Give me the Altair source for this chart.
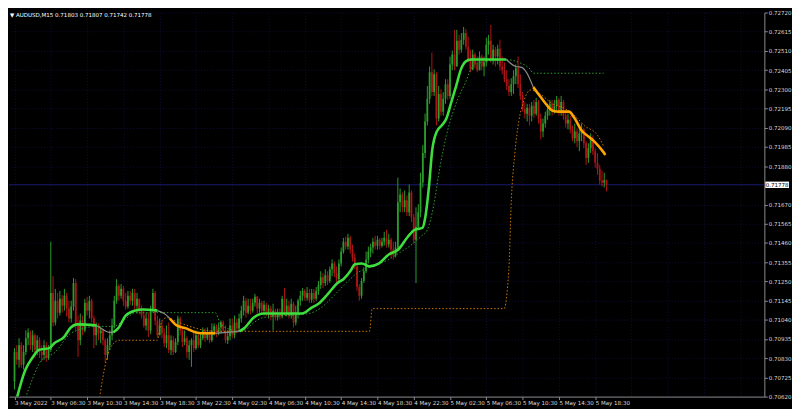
import altair as alt
import pandas as pd

SYMBOL = "AUDUSD,M15"
POINT = 0.00001  # prices below are stored in points (1 point = 0.00001)

open0 = 70702
close_pts = [
    70864, 70821, 70901, 70794, 70864, 70939, 70971, 70901, 70955, 70875,
    70928, 70864, 70847, 70901, 70831, 70875, 71187, 71025, 71144, 71079,
    71155, 71117, 71171, 71101, 71047, 71112, 71241, 71009, 70928, 71036,
    70982, 71133, 71090, 71144, 71047, 70955, 71009, 70966, 70982, 70928,
    70847, 70901, 70955, 71009, 71144, 71225, 71171, 71209, 71144, 71112,
    71171, 71144, 71187, 71117, 71155, 71090, 71063, 71009, 71047, 70982,
    71090, 71187, 71036, 70955, 71009, 70966, 70912, 70955, 70875, 70928,
    70864, 70918, 71047, 70982, 70918, 70939, 70864, 70901, 70928, 70885,
    70955, 70901, 70939, 70982, 70939, 70971, 70928, 70982, 71004, 70966,
    70998, 71025, 70982, 70928, 70950, 71009, 70955, 71025, 70993, 71047,
    71090, 71144, 71079, 71117, 71090, 71133, 71166, 71101, 71133, 71090,
    71122, 71079, 71101, 71058, 71090, 71052, 71079, 71058, 71155, 71079,
    71117, 71063, 71128, 71025, 71079, 71144, 71171, 71198, 71160, 71187,
    71149, 71187, 71155, 71198, 71230, 71273, 71241, 71284, 71252, 71316,
    71348, 71295, 71262, 71348, 71413, 71467, 71440, 71488, 71424, 71381,
    71332, 71219, 71171, 71252, 71305, 71370, 71413, 71435, 71467, 71445,
    71478, 71445, 71467, 71488, 71451, 71478, 71424, 71391, 71435, 71682,
    71725, 71655, 71693, 71628, 71736, 71601, 71478, 71548, 71628, 71790,
    71952, 72124, 72248, 72393, 72285, 72382, 72140, 72275, 72178, 72248,
    72328, 72264, 72436, 72490, 72425, 72566, 72517, 72571, 72608, 72533,
    72463, 72409, 72490, 72436, 72404, 72479, 72425, 72447, 72544, 72566,
    72463, 72517, 72479, 72522, 72425, 72404, 72355, 72318, 72285, 72328,
    72371, 72415, 72328, 72264, 72194, 72167, 72199, 72156, 72210, 72167,
    72231, 72140, 72070, 72113, 72156, 72188, 72221, 72178, 72210, 72242,
    72178, 72231, 72156, 72113, 72134, 72081, 72032, 72070, 72016, 72059,
    72081, 72005, 71924, 71978, 72027, 71962, 71898, 71866, 71801, 71790,
    71803, 71778,
]
high_pts = [
    70885, 70901, 70939, 70918, 70901, 70982, 70993, 70982, 70982, 70966,
    70955, 70945, 70901, 70928, 70918, 70901, 71467, 71279, 71209, 71187,
    71198, 71176, 71209, 71187, 71144, 71144, 71268, 71262, 71063, 71074,
    71063, 71155, 71166, 71171, 71155, 71063, 71025, 71020, 71004, 70993,
    70939, 70939, 70982, 71047, 71171, 71262, 71235, 71235, 71225, 71187,
    71198, 71198, 71209, 71209, 71187, 71155, 71117, 71090, 71079, 71079,
    71117, 71209, 71198, 71063, 71047, 71036, 70993, 71009, 71025, 70955,
    70950, 70939, 71063, 71058, 70993, 70982, 70950, 70928, 70939, 70971,
    70982, 70966, 70966, 70998, 70993, 70998, 70982, 71020, 71020, 71015,
    71025, 71036, 71036, 71009, 70982, 71047, 71047, 71063, 71047, 71074,
    71117, 71171, 71160, 71155, 71155, 71155, 71182, 71171, 71155, 71144,
    71144, 71133, 71122, 71117, 71128, 71101, 71101, 71101, 71171, 71214,
    71155, 71144, 71155, 71139, 71117, 71155, 71198, 71214, 71209, 71219,
    71209, 71209, 71209, 71219, 71252, 71305, 71295, 71316, 71305, 71332,
    71370, 71359, 71332, 71370, 71435, 71488, 71494, 71510, 71499, 71451,
    71402, 71348, 71235, 71268, 71327, 71413, 71440, 71456, 71488, 71499,
    71499, 71488, 71488, 71521, 71532, 71510, 71488, 71467, 71467, 71817,
    71758, 71736, 71747, 71720, 71779, 71747, 71618, 71655, 71672, 71844,
    71995, 72167, 72318, 72425, 72501, 72409, 72393, 72318, 72301, 72285,
    72355, 72355, 72479, 72512, 72625, 72625, 72598, 72608, 72641, 72630,
    72587, 72517, 72517, 72501, 72479, 72507, 72490, 72479, 72582, 72598,
    72652, 72544, 72533, 72544, 72571, 72479, 72447, 72404, 72355, 72361,
    72404, 72436, 72479, 72382, 72285, 72231, 72221, 72221, 72231, 72242,
    72253, 72242, 72167, 72140, 72178, 72221, 72242, 72242, 72242, 72264,
    72253, 72264, 72242, 72178, 72167, 72156, 72102, 72113, 72086, 72081,
    72113, 72091, 72016, 72005, 72059, 72048, 71978, 71952, 71887, 71855,
    71844, 71807,
]
low_pts = [
    70659, 70794, 70778, 70778, 70767, 70847, 70901, 70875, 70864, 70831,
    70847, 70831, 70810, 70821, 70810, 70821, 70864, 71004, 71009, 71047,
    71063, 71079, 71090, 71058, 71025, 71025, 71090, 70982, 70837, 70901,
    70955, 70971, 71063, 71047, 71025, 70885, 70901, 70928, 70912, 70901,
    70805, 70821, 70875, 70928, 70993, 71128, 71144, 71155, 71117, 71096,
    71101, 71122, 71117, 71090, 71074, 71069, 71047, 70998, 70982, 70945,
    70961, 71079, 71009, 70945, 70955, 70939, 70891, 70885, 70858, 70847,
    70847, 70858, 70901, 70955, 70891, 70901, 70831, 70821, 70783, 70864,
    70875, 70885, 70885, 70928, 70918, 70928, 70912, 70918, 70955, 70945,
    70955, 70966, 70971, 70912, 70907, 70928, 70939, 70939, 70966, 70982,
    71025, 71063, 71052, 71069, 71069, 71079, 71112, 71074, 71079, 71069,
    71063, 71058, 71047, 71036, 70982, 71036, 71036, 71042, 71047, 71063,
    71058, 71047, 71047, 70998, 71009, 71047, 71117, 71144, 71144, 71144,
    71133, 71133, 71133, 71144, 71176, 71209, 71214, 71225, 71230, 71241,
    71279, 71273, 71246, 71241, 71332, 71402, 71424, 71424, 71402, 71359,
    71316, 71198, 71144, 71155, 71241, 71295, 71348, 71381, 71402, 71424,
    71424, 71424, 71435, 71445, 71435, 71435, 71381, 71370, 71381, 71424,
    71628, 71628, 71628, 71607, 71607, 71575, 71456, 71241, 71532, 71601,
    71763, 71924, 72102, 72221, 72264, 72264, 72102, 72124, 72156, 72156,
    72221, 72242, 72248, 72404, 72404, 72425, 72490, 72501, 72544, 72517,
    72447, 72393, 72404, 72415, 72393, 72404, 72404, 72371, 72425, 72490,
    72447, 72436, 72425, 72436, 72404, 72382, 72339, 72296, 72264, 72264,
    72275, 72328, 72307, 72242, 72178, 72140, 72124, 72102, 72124, 72145,
    72156, 72113, 72027, 72038, 72091, 72134, 72156, 72156, 72167, 72178,
    72156, 72156, 72134, 72091, 72081, 72059, 72016, 72005, 71984, 71962,
    72016, 71978, 71887, 71898, 71952, 71941, 71871, 71833, 71779, 71769,
    71763, 71742,
]

# smoothed moving average (checkpoints: bar index, price in points)
ma_bar = [0, 4.8, 7.8, 10.7, 15.4, 17.5, 21.8, 24.8, 27.7, 36.2,
          39.6, 41.8, 43.5, 46.0, 49.0, 53.2, 56.6, 63.0, 66.0, 68.5,
          71.5, 75.7, 80.0, 84.2, 88.5, 93.6, 99.1, 101.2, 105.5, 109.7,
          115.3, 126.7, 131.0, 134.0, 138.2, 142.4, 145.0, 148.0, 150.1, 153.1,
          156.5, 160.7, 165.0, 169.2, 173.4, 176.4, 179.8, 181.1, 182.8, 184.1,
          186.2, 188.3, 190.4, 192.6, 194.7, 196.8, 198.9, 201.1, 216.8, 221.0,
          223.6, 225.7, 228.7, 231.6, 234.2, 237.2, 240.1, 244.4, 247.0, 249.9,
          252.9, 255.0, 257.1, 259.3, 260.5]
ma_pts = [70562, 70767, 70831, 70875, 70885, 70912, 70945, 70998, 71015, 71009,
          70982, 70971, 70971, 70998, 71063, 71090, 71096, 71090, 71074, 71047,
          71009, 70993, 70971, 70966, 70966, 70971, 70977, 70993, 71052, 71074,
          71074, 71074, 71106, 71128, 71182, 71241, 71262, 71305, 71343, 71348,
          71332, 71348, 71397, 71424, 71494, 71532, 71542, 71601, 71779, 71962,
          72070, 72102, 72140, 72232, 72318, 72409, 72452, 72463, 72463, 72425,
          72420, 72393, 72312, 72264, 72221, 72183, 72178, 72178, 72140, 72076,
          72043, 72022, 71995, 71962, 71941]
# (first checkpoint, last checkpoint, trend)
ma_segments = [(0, 9, "up"), (9, 12, "flat"), (12, 17, "up"), (17, 19, "flat"),
               (19, 24, "down"), (24, 26, "flat"), (26, 58, "up"), (58, 62, "flat"),
               (62, 74, "down")]

# dotted trailing lines
up_trail_bar = [4.4, 7.8, 12.0, 17.5, 24.8, 27.7, 36.2, 43.9, 46.9, 50.3,
                53.2, 88.5, 90.6, 92.7, 98.3, 101.2, 105.5, 109.7, 129.7, 135.2,
                139.5, 143.7, 148.0, 151.0, 155.2, 165.0, 169.2, 175.6, 179.0, 182.0,
                184.9, 187.5, 190.4, 193.4, 196.0, 198.9, 201.1, 203.2, 206.2, 215.9,
                224.4, 227.4, 228.7, 259.7]
up_trail_pts = [70595, 70713, 70821, 70858, 70966, 70982, 71004, 71004, 71025, 71058,
                71079, 71079, 71025, 70998, 70982, 70982, 71025, 71052, 71074, 71106,
                71155, 71209, 71262, 71295, 71321, 71370, 71402, 71456, 71494, 71532,
                71672, 71871, 72048, 72178, 72264, 72339, 72409, 72436, 72447, 72463,
                72436, 72409, 72388, 72388]
dn_trail_bar = [37.1, 38.8, 40.5, 42.2, 44.3, 46.0, 63.0, 63.9, 65.1, 67.2,
                70.2, 73.6, 78.7, 84.2, 90.6, 156.5, 157.7, 215.9, 217.2, 218.1,
                218.9, 220.6, 222.3, 224.4, 227.4, 231.6, 237.2, 242.7, 247.0, 251.2,
                257.1, 259.7]
dn_trail_pts = [70578, 70713, 70821, 70885, 70918, 70928, 70928, 70982, 71036, 71052,
                71036, 71020, 70998, 70982, 70977, 70977, 71101, 71101, 71198, 71359,
                71655, 71952, 72124, 72231, 72296, 72275, 72221, 72194, 72156, 72102,
                72048, 71989]

time_label_bars = [0, 16, 32, 48, 64, 80, 96, 112, 128, 144, 160, 176, 192, 208, 224, 240, 256]
time_labels = ["3 May 2022", "3 May 06:30", "3 May 10:30", "3 May 14:30", "3 May 18:30",
               "3 May 22:30", "4 May 02:30", "4 May 06:30", "4 May 10:30", "4 May 14:30",
               "4 May 18:30", "4 May 22:30", "5 May 02:30", "5 May 06:30", "5 May 10:30",
               "5 May 14:30", "5 May 18:30"]
grid_bars = [0, 16, 32, 48, 64, 80, 96, 112, 128, 144, 160, 176, 192, 208, 224, 240, 256,
             272, 288, 304, 320]
price_ticks = [0.70620, 0.70725, 0.70830, 0.70935, 0.71040, 0.71145, 0.71250, 0.71355,
               0.71460, 0.71565, 0.71670, 0.71880, 0.71985, 0.72090, 0.72195, 0.72300,
               0.72405, 0.72510, 0.72615, 0.72720]

# ---- styling ----
BG = "#000000"
BULL = "#2a9d2a"
BEAR = "#b01515"
MA_UP = "#3ede3e"
MA_DN = "#ffa500"
MA_FLAT = "#8a8a8a"
TRAIL_UP = "#2f9f2f"
TRAIL_DN = "#cc7a00"
PRICE_LINE = "#1a1a74"
GRID = "#0e0e3a"
AXIS = "#8c8c8c"
TXT = "#dcdcdc"
FONT = "DejaVu Sans"
FS = 5.6
W, H = 765, 389

# ---- tables ----
n = len(close_pts)
opens = [open0] + close_pts[:-1]
candles = pd.DataFrame({
    "bar": list(range(n)),
    "open": [v * POINT for v in opens],
    "high": [v * POINT for v in high_pts],
    "low": [v * POINT for v in low_pts],
    "close": [v * POINT for v in close_pts],
})
candles["col"] = [BULL if c >= o else BEAR for o, c in zip(candles["open"], candles["close"])]

ma_color = {"up": MA_UP, "down": MA_DN, "flat": MA_FLAT}
rows = []
for k, (a, b, kind) in enumerate(ma_segments):
    for j in range(a, b + 1):
        rows.append({"seg": k, "kind": kind, "col": ma_color[kind],
                     "bar": ma_bar[j], "val": ma_pts[j] * POINT})
ma_df = pd.DataFrame(rows)
up_df = pd.DataFrame({"bar": up_trail_bar, "val": [v * POINT for v in up_trail_pts]})
dn_df = pd.DataFrame({"bar": dn_trail_bar, "val": [v * POINT for v in dn_trail_pts]})

last_o, last_h, last_l, last_c = opens[-1] * POINT, high_pts[-1] * POINT, low_pts[-1] * POINT, close_pts[-1] * POINT
price_df = pd.DataFrame({"p": [last_c], "label": [f"{last_c:.5f}"]})
title_df = pd.DataFrame({"t": [f"\u25bc {SYMBOL}  {last_o:.5f} {last_h:.5f} {last_l:.5f} {last_c:.5f}"]})

# ---- scales / axes ----
pos_js = "[" + ",".join(str(b) for b in time_label_bars) + "]"
lab_js = "[" + ",".join("'" + s + "'" for s in time_labels) + "]"
xs = alt.Scale(domain=[-0.26, 328.4], nice=False, zero=False)
ys = alt.Scale(domain=[0.70620, 0.72720], nice=False, zero=False)
xaxis = alt.Axis(
    orient="bottom", values=grid_bars, title=None,
    labelExpr=f"indexof({pos_js}, datum.value) >= 0 ? {lab_js}[indexof({pos_js}, datum.value)] : ''",
    labelAlign="left", labelBaseline="top", labelPadding=1, labelFont=FONT, labelFontSize=FS,
    labelColor=TXT, labelOverlap=False, labelFlush=False, labelBound=False, labelAngle=0,
    tickSize=3, tickColor={"condition": {"test": f"indexof({pos_js}, datum.value) < 0", "value": "transparent"}, "value": AXIS},
    domainColor=AXIS, grid=True, gridColor=GRID, gridDash=[1, 2], gridWidth=1,
)
yaxis = alt.Axis(
    orient="right", values=price_ticks, format=".5f", title=None,
    labelFont=FONT, labelFontSize=FS, labelColor=TXT, labelPadding=1,
    labelOverlap=False, labelFlush=False, labelBound=False,
    tickSize=3, tickColor=AXIS, domainColor=AXIS,
    grid=True, gridColor=GRID, gridDash=[1, 2], gridWidth=1,
)


def X(field):
    return alt.X(f"{field}:Q", scale=xs, axis=xaxis)


def Y(field):
    return alt.Y(f"{field}:Q", scale=ys, axis=yaxis)


price_line = alt.Chart(price_df).mark_rule(color=PRICE_LINE, strokeWidth=1).encode(y=Y("p"))

wicks = alt.Chart(candles).mark_rule(strokeWidth=1, clip=True).encode(
    x=X("bar"), y=Y("low"), y2="high:Q", color=alt.Color("col:N", scale=None))
bodies = alt.Chart(candles).mark_bar(size=1.8, clip=True).encode(
    x=X("bar"), y=Y("open"), y2="close:Q", color=alt.Color("col:N", scale=None))

up_trail = alt.Chart(up_df).mark_line(color=TRAIL_UP, strokeWidth=1, strokeDash=[1.5, 2],
                                       interpolate="monotone", clip=True).encode(x=X("bar"), y=Y("val"))
dn_trail = alt.Chart(dn_df).mark_line(color=TRAIL_DN, strokeWidth=1, strokeDash=[1.5, 2],
                                       interpolate="monotone", clip=True).encode(x=X("bar"), y=Y("val"))

ma_flat = alt.Chart(ma_df).transform_filter("datum.kind == 'flat'").mark_line(
    strokeWidth=1.2, interpolate="monotone", clip=True).encode(
    x=X("bar"), y=Y("val"), detail="seg:N", color=alt.Color("col:N", scale=None))
ma_trend = alt.Chart(ma_df).transform_filter("datum.kind != 'flat'").mark_line(
    strokeWidth=2.6, interpolate="monotone", clip=True).encode(
    x=X("bar"), y=Y("val"), detail="seg:N", color=alt.Color("col:N", scale=None))

box = alt.Chart(price_df).mark_point(
    shape="M-1,-0.27L1,-0.27L1,0.27L-1,0.27Z", size=576, filled=True, opacity=1,
    color="#ffffff", clip=False).encode(y=Y("p"), x=alt.value(W + 13))
box_text = alt.Chart(price_df).mark_text(
    font=FONT, fontSize=FS, color="#000000", align="center", baseline="middle").encode(
    y=Y("p"), x=alt.value(W + 13), text="label:N")

title = alt.Chart(title_df).mark_text(
    font=FONT, fontSize=FS, color="#ffffff", align="left", baseline="middle").encode(
    x=alt.value(1), y=alt.value(3), text="t:N")

chart = alt.layer(
    price_line, wicks, bodies, up_trail, dn_trail, ma_flat, ma_trend, box, box_text, title
).properties(width=W, height=H, padding=0).configure(background=BG).configure_view(stroke=None)

chart.save("out.html", embed_options={"renderer": "svg", "actions": False})
